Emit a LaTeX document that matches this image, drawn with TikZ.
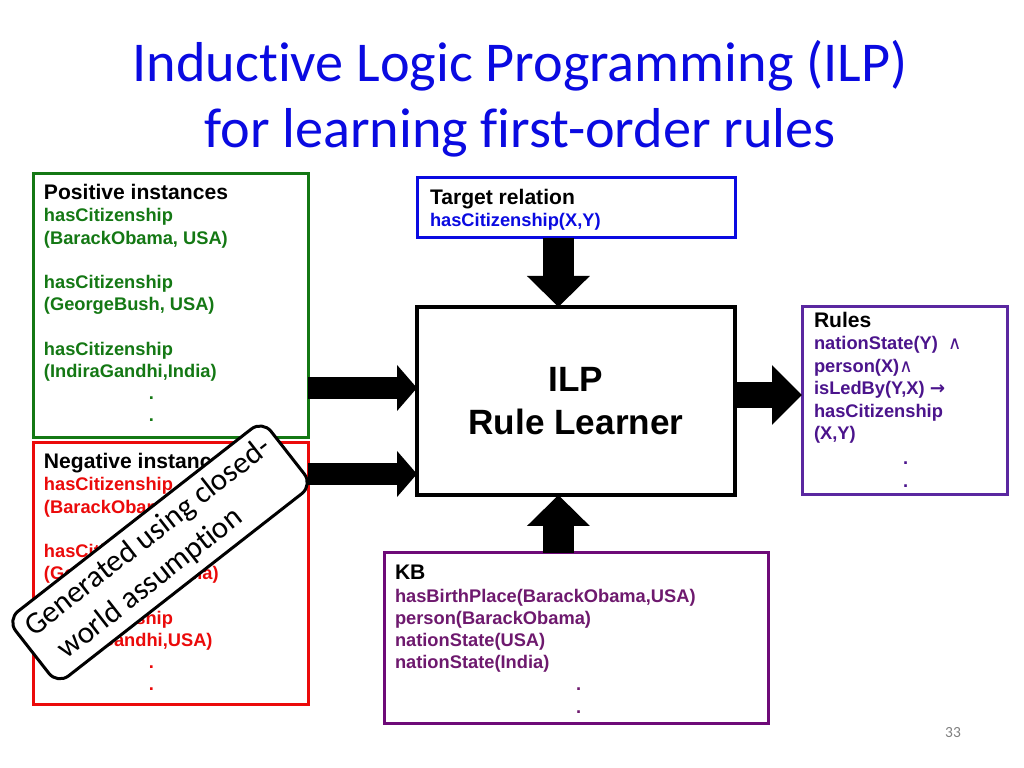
\documentclass[tikz,border=0pt]{standalone}
\usepackage{fontspec}
\setmainfont{Liberation Sans}
\newfontfamily\slidefont[Ligatures=NoCommon]{Carlito}
\newfontfamily\glyphfont{DejaVu Sans}
\usepackage{xcolor}
\usetikzlibrary{positioning,calc,arrows.meta}

\definecolor{titleblue}{RGB}{10,10,225}
\definecolor{posgreen}{RGB}{20,120,20}
\definecolor{negred}{RGB}{235,10,10}
\definecolor{rulepurple}{RGB}{90,40,160}
\definecolor{ruletext}{RGB}{75,20,140}
\definecolor{kbpurple}{RGB}{110,10,120}
\definecolor{kbtext}{RGB}{110,25,110}

% top-aligned text block of a fixed size
\newcommand{\boxlines}[3]{\parbox[c][#2][t]{#1}{\raggedright #3}}
\newcommand{\boxhead}[1]{{\color{black}\fontsize{15}{15.8}\selectfont #1}}

\begin{document}
\begin{tikzpicture}[
    box/.style={draw, line width=0.075cm, outer sep=0pt, fill=white, font=\bfseries\fontsize{13}{15.8}\selectfont},
    ilpbox/.style={draw, line width=0.1cm, outer sep=0pt, fill=white, minimum width=7.95cm, minimum height=4.7cm, align=center, font=\bfseries\fontsize{25}{30.5}\selectfont},
    slidetitle/.style={text=titleblue, font=\slidefont\fontsize{40}{48}\selectfont},
    cwa/.style={draw, line width=0.075cm, fill=white, rounded corners=0.35cm, minimum width=8.1cm, minimum height=2.05cm, align=left, font=\slidefont\fontsize{22}{27}\selectfont},
    pagenum/.style={text=gray, font=\slidefont\fontsize{11}{13}\selectfont},
    inarrow/.style={line width=0.55cm, -{Triangle[length=0.5cm,width=1.125cm]}},
    vertarrow/.style={line width=0.775cm, -{Triangle[length=0.775cm,width=1.525cm]}},
    outarrow/.style={line width=0.65cm, -{Triangle[length=0.75cm,width=1.45cm]}}
]

    % Slide background
    \fill[white] (0,0) rectangle (25.6,19.2);
    \useasboundingbox (0,0) rectangle (25.6,19.2);

    % Title
    \node[slidetitle, anchor=base] (title1) at (13.0,17.15) {Inductive Logic Programming (ILP)};
    \node[slidetitle, anchor=base] (title2) at (13.0,15.5) {for learning first-order rules};

    % Learner in the middle
    \node[ilpbox] (ilp) at (14.4,9.175) {ILP\\Rule Learner};

    % Examples (left)
    \node[box, draw=posgreen, text=posgreen, inner xsep=0.275cm, inner ysep=0.26cm, anchor=north west] (posbox) at (0.825,14.85) {\boxlines{6.325cm}{6.08cm}{%
        \boxhead{Positive instances}\\
        hasCitizenship\\
        (BarackObama, USA)\\[15.8pt]
        hasCitizenship\\
        (GeorgeBush, USA)\\[15.8pt]
        hasCitizenship\\
        (IndiraGandhi,India)\\
        \hspace*{2.625cm}.\\
        \hspace*{2.625cm}.}};
    \node[box, draw=negred, text=negred, inner xsep=0.275cm, inner ysep=0.26cm, below=0.125cm of posbox] (negbox) {\boxlines{6.325cm}{6.03cm}{%
        \boxhead{Negative instances}\\
        hasCitizenship\\
        (BarackObama, India)\\[15.8pt]
        hasCitizenship\\
        (GeorgeBush, India)\\[15.8pt]
        hasCitizenship\\
        (IndiraGandhi,USA)\\
        \hspace*{2.625cm}.\\
        \hspace*{2.625cm}.}};

    % Target relation (top) and KB (bottom)
    \node[box, draw=titleblue, text=titleblue, inner xsep=0.325cm, inner ysep=0.285cm, above=1.725cm of ilp] (target) {\boxlines{7.3cm}{0.93cm}{%
        \boxhead{Target relation}\\
        hasCitizenship(X,Y)}};
    \node[box, draw=kbpurple, text=kbtext, inner xsep=0.275cm, inner ysep=0.31cm, below=1.45cm of ilp] (kb) {\boxlines{9.05cm}{3.655cm}{%
        \boxhead{KB}\\
        hasBirthPlace(BarackObama,USA)\\
        person(BarackObama)\\
        nationState(USA)\\
        nationState(India)\\
        \hspace*{4.525cm}.\\
        \hspace*{4.525cm}.}};

    % Learned rules (right)
    \node[box, draw=rulepurple, text=ruletext, inner xsep=0.3cm, inner ysep=0.12cm, right=1.675cm of ilp] (rules) {\boxlines{4.525cm}{4.46cm}{%
        \fontsize{13}{16}\selectfont
        \boxhead{Rules}\\
        nationState(Y)\ \ {\glyphfont\mdseries ∧}\\
        person(X){\glyphfont\mdseries ∧}\\
        isLedBy(Y,X) {\glyphfont →}\\
        hasCitizenship\\
        (X,Y)\\[2pt]
        \hspace*{2.225cm}.\\
        \hspace*{2.225cm}.}};

    % Connections
    \coordinate (posin) at ([yshift=0.325cm]ilp.west);
    \coordinate (negin) at ([yshift=-1.825cm]ilp.west);
    \coordinate (tgtin) at ([xshift=-0.44cm]ilp.north);
    \coordinate (kbin) at ([xshift=-0.44cm]ilp.south);
    \coordinate (ruleout) at ([yshift=0.15cm]ilp.east);

    \draw[inarrow] (posbox.east |- posin) -- (posin);
    \draw[inarrow] (negbox.east |- negin) -- (negin);
    \draw[vertarrow] (target.south -| tgtin) -- (tgtin);
    \draw[vertarrow] (kb.north -| kbin) -- (kbin);
    \draw[outarrow] (ruleout) -- (rules.west |- ruleout);

    % Closed-world note on top
    \node[cwa, rotate=38] (cwa) at (4.0,5.39) {Generated using closed-\\\hspace*{0.3cm}world assumption};

    \node[pagenum] (page) at (23.825,0.875) {33};

\end{tikzpicture}
\end{document}
